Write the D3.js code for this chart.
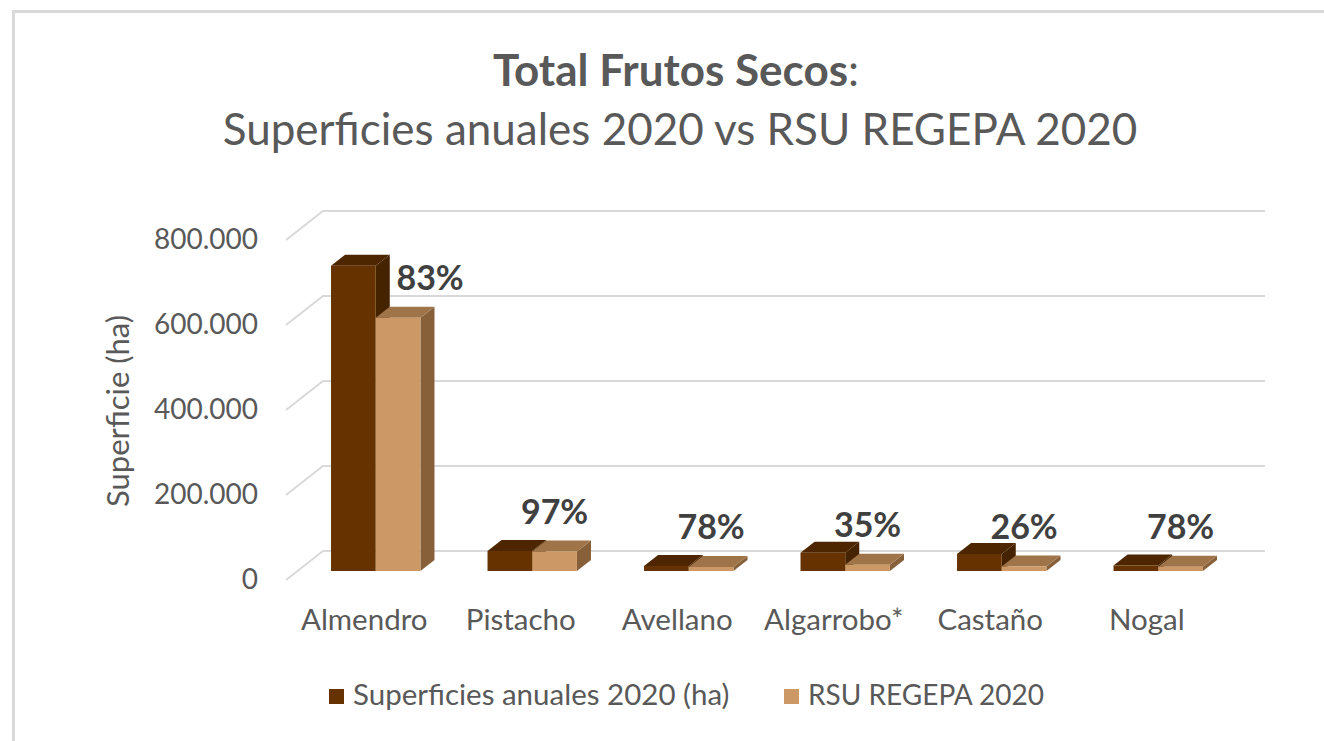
<!DOCTYPE html>
<html>
<head>
<meta charset="utf-8">
<script src="https://cdn.jsdelivr.net/npm/d3@7"></script>
<style>
  html, body { margin: 0; padding: 0; background: #ffffff; }
  svg text { font-family: Lato, "Open Sans", sans-serif; }
</style>
</head>
<body>
<svg id="chart" width="1324" height="741"></svg>
<script>
// ---- Data ----
const categories = ["Almendro", "Pistacho", "Avellano", "Algarrobo*", "Castaño", "Nogal"];
const seriesNames = ["Superficies anuales 2020 (ha)", "RSU REGEPA 2020"];
const superficies = [718000, 47000, 12000, 43000, 40000, 13000];
const rsuRegepa   = [596000, 45600, 9400, 15000, 10400, 10100];
const pctLabels   = ["83%", "97%", "78%", "35%", "26%", "78%"];
const yTicks      = [0, 200000, 400000, 600000, 800000];
const titleBold   = "Total Frutos Secos";
const titleRest   = ":";
const subtitle    = "Superficies anuales 2020 vs RSU REGEPA 2020";
const yTitle      = "Superficie (ha)";

// ---- Styles ----
const faceColors = [
  { front: "#663300", top: "#4d2600", side: "#452200" },
  { front: "#cc9966", top: "#9f7448", side: "#87603a" }
];
const gridColor = "#d9d9d9";
const textColor = "#595959";

const svg = d3.select("#chart");

// frame
svg.append("line").attr("x1", 13.5).attr("x2", 13.5).attr("y1", 10).attr("y2", 741)
  .attr("stroke", gridColor).attr("stroke-width", 3);
svg.append("line").attr("x1", 12).attr("x2", 1324).attr("y1", 11.5).attr("y2", 11.5)
  .attr("stroke", gridColor).attr("stroke-width", 3);

// ---- Scales (front plane) ----
const x = d3.scaleBand().domain(categories).range([286, 1225]).paddingInner(0).paddingOuter(0);
const xSub = d3.scaleBand().domain(seriesNames).range([0, x.bandwidth()]).paddingInner(0).paddingOuter(0.75);
const y = d3.scaleLinear().domain([0, 800000]).range([580, 240]);

const depthK = 37 / 29;      // oblique projection slope
const wallDepth = 29;
const barD0 = 9, barD1 = 20;
const floorRight = 1228;

function P(px, v, d) { return [px + depthK * d, y(v) - d]; }
function poly(pts) { return "M" + pts.map(p => p.join(",")).join("L") + "Z"; }

// ---- Walls / gridlines ----
const grid = svg.append("g");
yTicks.forEach(v => {
  const a = P(286, v, 0), b = P(286, v, wallDepth), c = P(floorRight, v, wallDepth);
  grid.append("path").attr("d", `M${a}L${b}L${c}`)
    .attr("fill", "none").attr("stroke", gridColor).attr("stroke-width", 2);
});

// ---- Y axis ----
const locale = d3.formatLocale({ decimal: ",", thousands: ".", grouping: [3], currency: ["", "€"] });
const fmt = locale.format(",.0f");
const yAxis = svg.append("g").attr("transform", "translate(286,0)")
  .call(d3.axisLeft(y).tickValues(yTicks).tickSize(0).tickPadding(28).tickFormat(fmt));
yAxis.select(".domain").remove();
yAxis.selectAll("text").attr("fill", textColor).style("font-size", "28px").style("font-family", "Lato");

svg.append("text")
  .attr("transform", "translate(129,411) rotate(-90)")
  .attr("text-anchor", "middle")
  .attr("fill", textColor).style("font-size", "31px")
  .text(yTitle);

// ---- Bars ----
const series = [superficies, rsuRegepa];
const bars = svg.append("g");
categories.forEach((cat, i) => {
  series.forEach((vals, s) => {
    const v = vals[i];
    const x0 = x(cat) + xSub(seriesNames[s]);
    const x1 = x0 + xSub.bandwidth();
    const c = faceColors[s];
    const g = bars.append("g");
    g.append("path").attr("d", poly([P(x1, 0, barD0), P(x1, 0, barD1), P(x1, v, barD1), P(x1, v, barD0)]))
      .attr("fill", c.side);
    g.append("path").attr("d", poly([P(x0, v, barD0), P(x1, v, barD0), P(x1, v, barD1), P(x0, v, barD1)]))
      .attr("fill", c.top);
    g.append("path").attr("d", poly([P(x0, 0, barD0), P(x1, 0, barD0), P(x1, v, barD0), P(x0, v, barD0)]))
      .attr("fill", c.front);
  });
});

// ---- Data labels (on the RSU bar) ----
const labelNudge = { "Almendro": 32 };
categories.forEach((cat, i) => {
  const x0 = x(cat) + xSub(seriesNames[1]);
  const cx = x0 + xSub.bandwidth() / 2 + depthK * barD0 + (labelNudge[cat] || 0);
  const topBack = P(x0, rsuRegepa[i], barD1)[1];
  svg.append("text")
    .attr("x", cx).attr("y", topBack - 17)
    .attr("text-anchor", "middle")
    .attr("fill", "#404040").style("font-size", "34px").style("font-weight", "bold")
    .text(pctLabels[i]);
});

// ---- X labels ----
categories.forEach(cat => {
  svg.append("text")
    .attr("x", x(cat) + x.bandwidth() / 2).attr("y", 630)
    .attr("text-anchor", "middle")
    .attr("fill", textColor).style("font-size", "29.5px")
    .text(cat);
});

// ---- Title ----
const t = svg.append("text").attr("x", 676).attr("y", 86).attr("text-anchor", "middle")
  .attr("fill", textColor).style("font-size", "44px");
t.append("tspan").style("font-weight", "bold").text(titleBold);
t.append("tspan").text(titleRest);
svg.append("text").attr("x", 680).attr("y", 145).attr("text-anchor", "middle")
  .attr("fill", textColor).style("font-size", "44px").text(subtitle);

// ---- Legend ----
const legendX = [329, 784];
seriesNames.forEach((name, s) => {
  svg.append("rect").attr("x", legendX[s]).attr("y", 689).attr("width", 15).attr("height", 15)
    .attr("fill", faceColors[s].front);
  svg.append("text").attr("x", legendX[s] + 24).attr("y", 705)
    .attr("fill", textColor).style("font-size", s === 0 ? "29.5px" : "28px").text(name);
});
</script>
</body>
</html>
